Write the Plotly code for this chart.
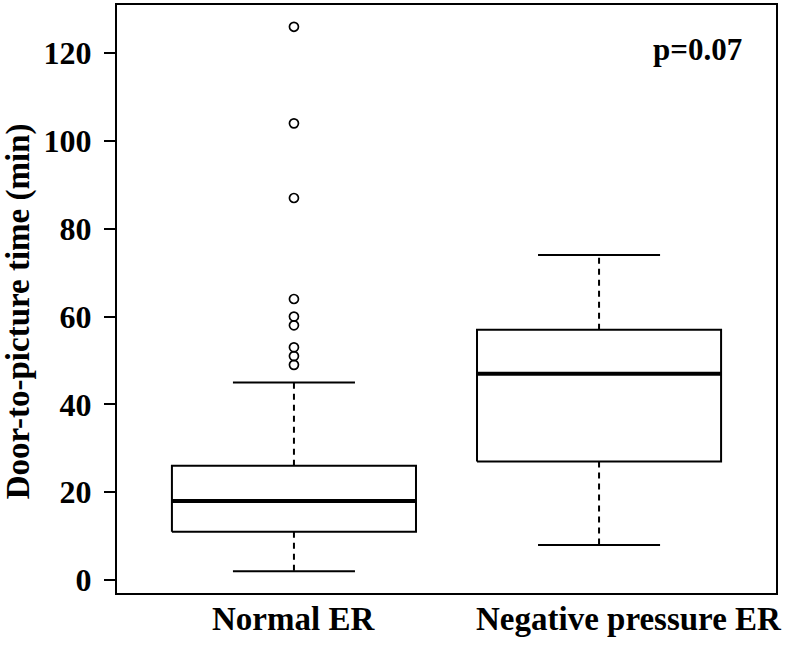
import plotly.graph_objects as go

# ---- data ----
groups = ["Normal ER", "Negative pressure ER"]
positions = [1, 2]
lower_whisker = [2, 8]
q1 = [11, 27]
median = [18, 47]
q3 = [26, 57]
upper_whisker = [45, 74]
outliers_normal = [126, 104, 87, 64, 60, 58, 53, 51, 49]
outliers_negative = []
outliers = [outliers_normal, outliers_negative]
y_ticks = [0, 20, 40, 60, 80, 100, 120]
p_text = "p=0.07"
y_title = "Door-to-picture time (min)"

BOX_HALF = 0.4
CAP_HALF = 0.2
FONT = "Liberation Serif"
BLACK = "#000000"

fig = go.Figure()

for i, pos in enumerate(positions):
    # box
    fig.add_trace(go.Scatter(
        x=[pos - BOX_HALF, pos + BOX_HALF, pos + BOX_HALF, pos - BOX_HALF, pos - BOX_HALF],
        y=[q1[i], q1[i], q3[i], q3[i], q1[i]],
        mode="lines", line=dict(color=BLACK, width=2), hoverinfo="skip", showlegend=False))
    # median
    fig.add_trace(go.Scatter(
        x=[pos - BOX_HALF, pos + BOX_HALF], y=[median[i], median[i]],
        mode="lines", line=dict(color=BLACK, width=4), hoverinfo="skip", showlegend=False))
    # whiskers (dashed)
    fig.add_trace(go.Scatter(
        x=[pos, pos, None, pos, pos],
        y=[q3[i], upper_whisker[i], None, q1[i], lower_whisker[i]],
        mode="lines", line=dict(color=BLACK, width=2, dash="6px,5px"),
        hoverinfo="skip", showlegend=False, connectgaps=False))
    # caps
    fig.add_trace(go.Scatter(
        x=[pos - CAP_HALF, pos + CAP_HALF, None, pos - CAP_HALF, pos + CAP_HALF],
        y=[upper_whisker[i], upper_whisker[i], None, lower_whisker[i], lower_whisker[i]],
        mode="lines", line=dict(color=BLACK, width=2),
        hoverinfo="skip", showlegend=False, connectgaps=False))
    # outliers
    if outliers[i]:
        fig.add_trace(go.Scatter(
            x=[pos] * len(outliers[i]), y=outliers[i], mode="markers",
            marker=dict(symbol="circle-open", size=9, color=BLACK, line=dict(width=1.7)),
            showlegend=False))

# x category labels as annotations under the axis
label_shift = [0, 30]
for i, pos in enumerate(positions):
    fig.add_annotation(
        x=pos, xref="x", y=0, yref="paper", yanchor="top", yshift=-6,
        xshift=label_shift[i], text=groups[i], showarrow=False,
        font=dict(family=FONT, size=33, color=BLACK, weight="bold"))

fig.add_annotation(
    x=0.952, xref="paper", y=0.925, yref="paper", xanchor="right", yanchor="middle",
    text=p_text, showarrow=False,
    font=dict(family=FONT, size=31, color=BLACK, weight="bold"))

# y axis title
fig.add_annotation(
    x=-0.1495, xref="paper", y=0.48, yref="paper", xanchor="center", yanchor="middle",
    text=y_title, textangle=-90, showarrow=False,
    font=dict(family=FONT, size=33, color=BLACK, weight="bold"))

fig.update_layout(
    width=787, height=645,
    margin=dict(l=117, r=11, t=3, b=52),
    paper_bgcolor="white", plot_bgcolor="white",
    font=dict(family=FONT, color=BLACK),
    xaxis=dict(range=[0.42, 2.58], showgrid=False, zeroline=False,
               showticklabels=False, ticks="",
               showline=True, linecolor=BLACK, linewidth=2, mirror=True),
    yaxis=dict(range=[-2.96, 130.96], showgrid=False, zeroline=False,
               tickvals=y_ticks, ticks="outside", ticklen=11, tickwidth=2,
               tickcolor=BLACK, ticklabelstandoff=6,
               tickfont=dict(family=FONT, size=32, color=BLACK, weight="bold"),
               showline=True, linecolor=BLACK, linewidth=2, mirror=True),
)

fig.write_html("out.html", config={"displayModeBar": False},
               post_script="document.body.style.margin='0';")
